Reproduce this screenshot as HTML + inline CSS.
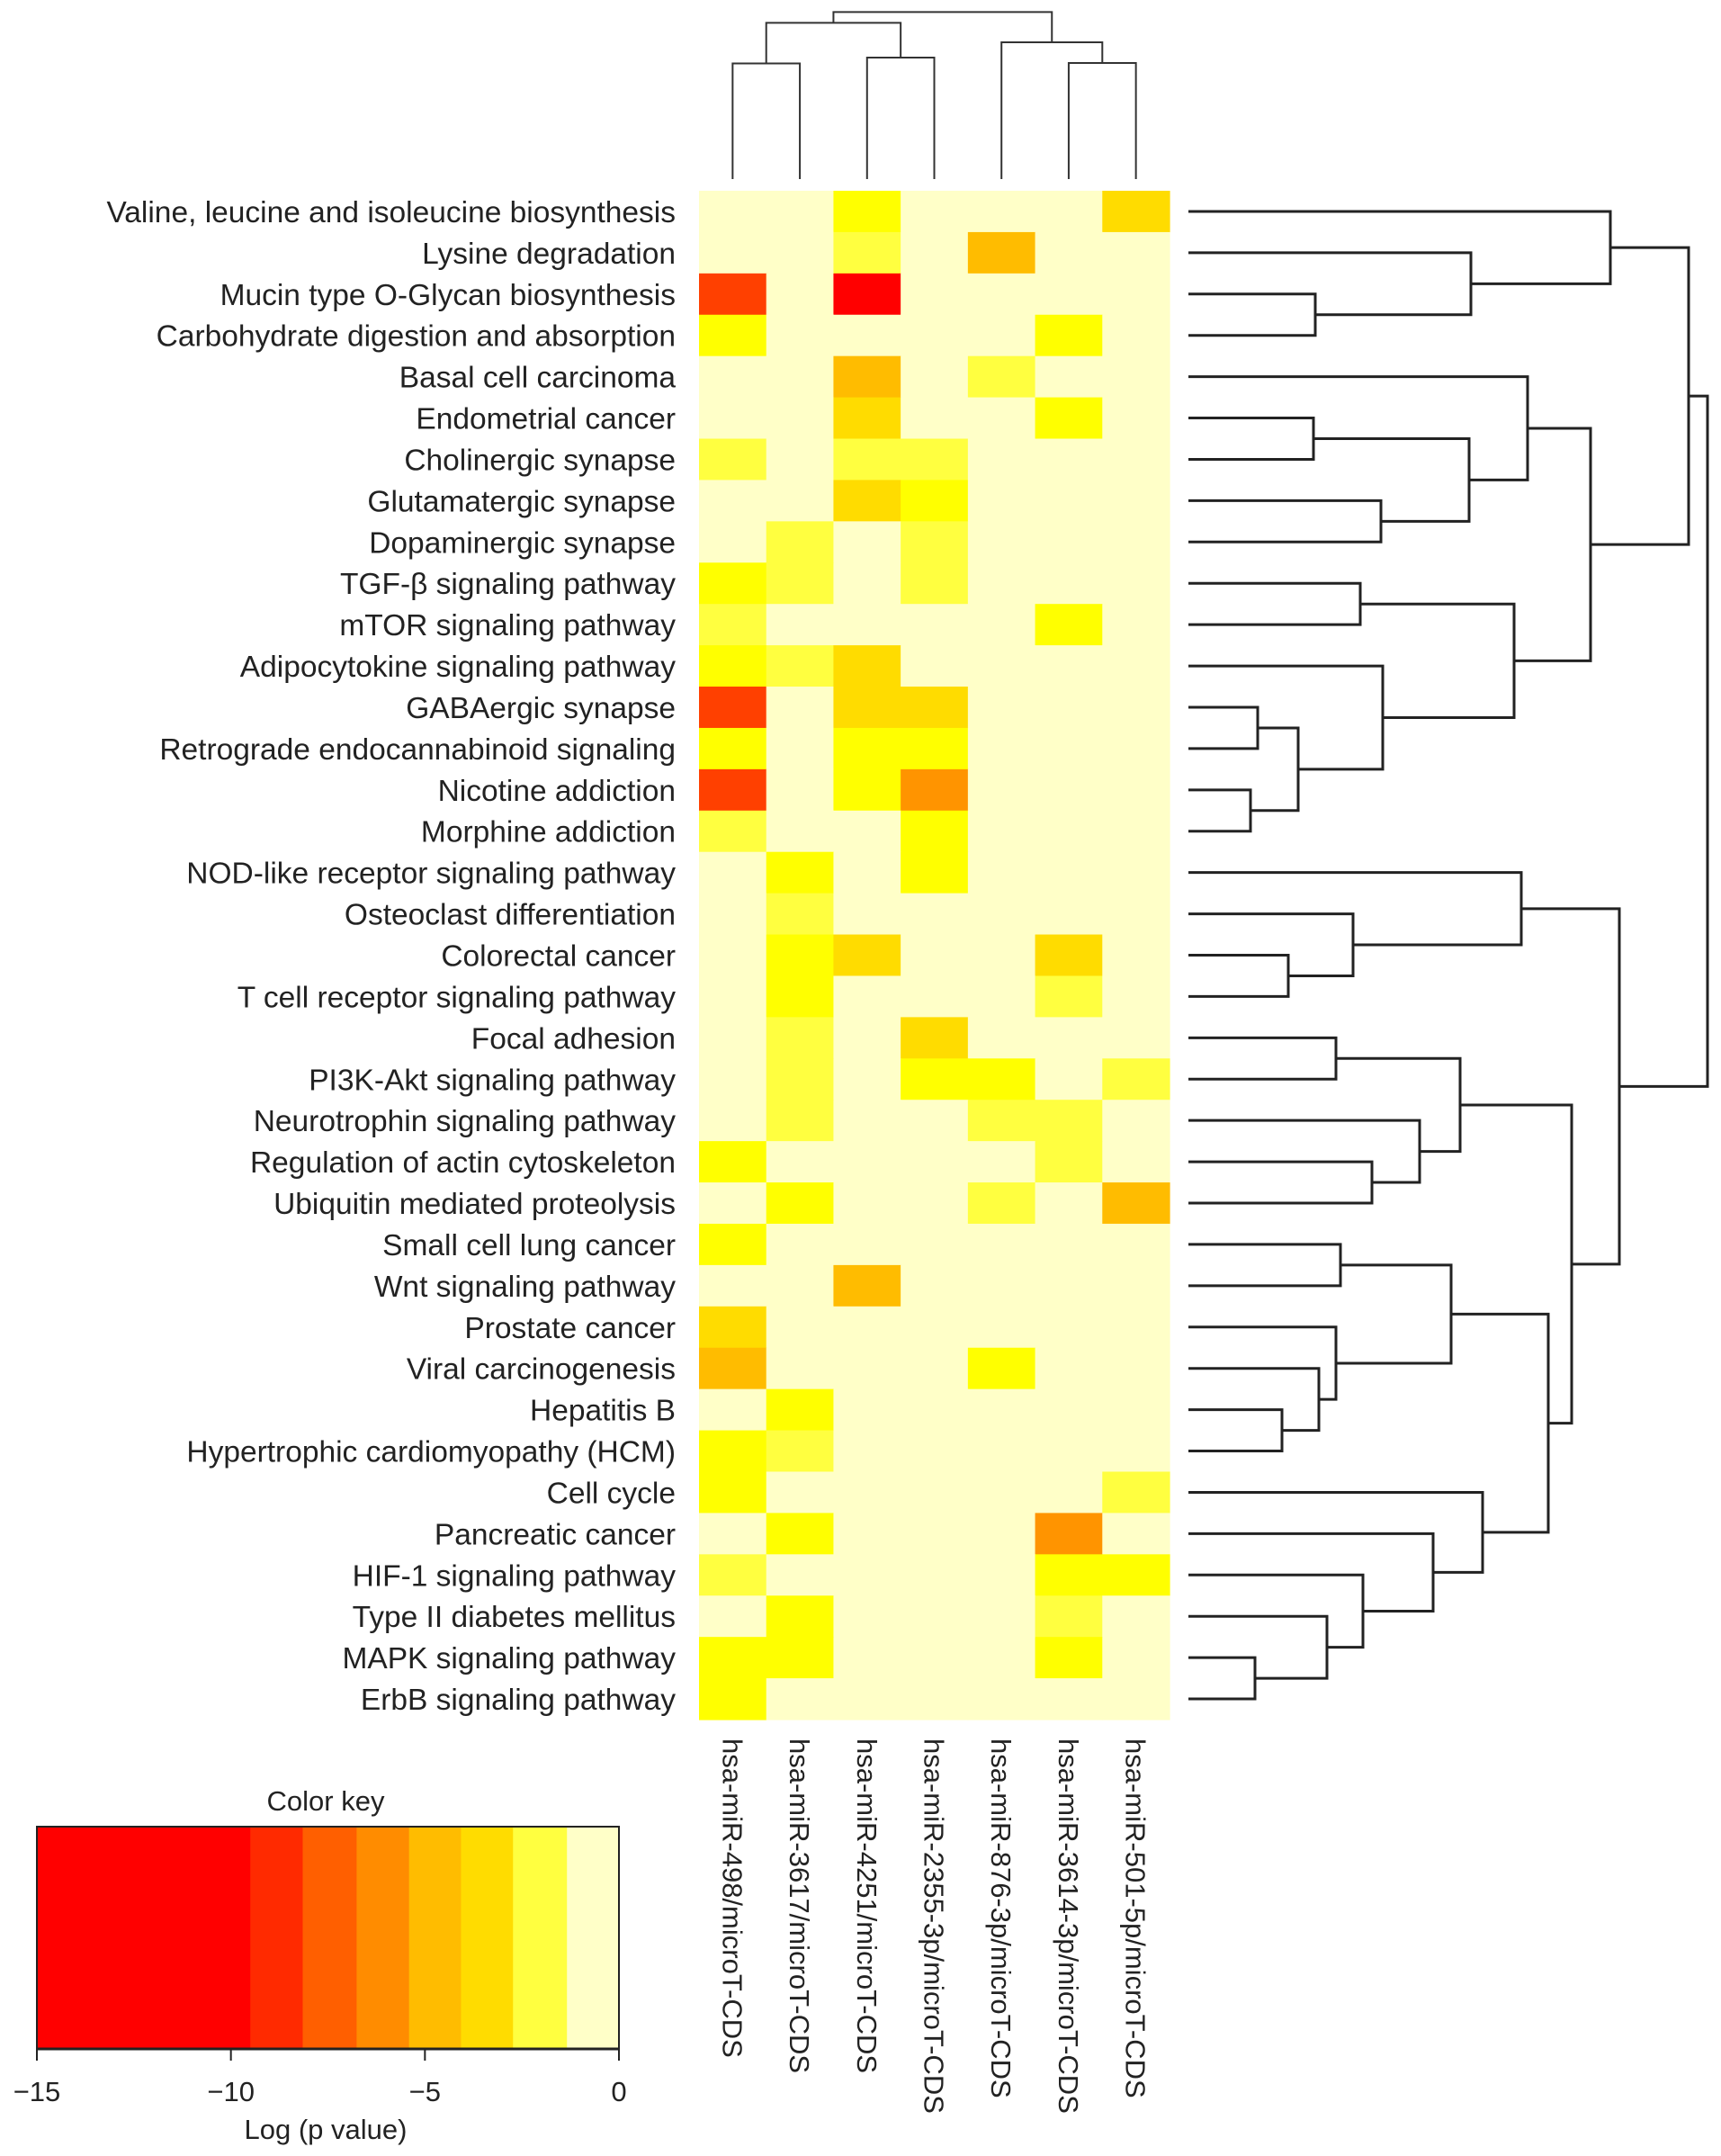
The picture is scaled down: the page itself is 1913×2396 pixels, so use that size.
<!DOCTYPE html>
<html><head><meta charset="utf-8"><style>
html,body{margin:0;padding:0;background:#fff;}
svg{display:block;font-family:"Liberation Sans",Arial,sans-serif;}
</style></head><body>
<svg id="chart" width="1913" height="2396" viewBox="0 0 1913 2396" xmlns="http://www.w3.org/2000/svg">
<g id="cells"></g>
<g id="rowlabels"></g>
<g id="collabels"></g>
<g id="rdend"></g>
<g id="cdend"></g>
<g id="key"></g>
</svg>
<script>
const rowNames = ["Valine, leucine and isoleucine biosynthesis","Lysine degradation","Mucin type O-Glycan biosynthesis","Carbohydrate digestion and absorption","Basal cell carcinoma","Endometrial cancer","Cholinergic synapse","Glutamatergic synapse","Dopaminergic synapse","TGF-\u03B2 signaling pathway","mTOR signaling pathway","Adipocytokine signaling pathway","GABAergic synapse","Retrograde endocannabinoid signaling","Nicotine addiction","Morphine addiction","NOD-like receptor signaling pathway","Osteoclast differentiation","Colorectal cancer","T cell receptor signaling pathway","Focal adhesion","PI3K-Akt signaling pathway","Neurotrophin signaling pathway","Regulation of actin cytoskeleton","Ubiquitin mediated proteolysis","Small cell lung cancer","Wnt signaling pathway","Prostate cancer","Viral carcinogenesis","Hepatitis B","Hypertrophic cardiomyopathy (HCM)","Cell cycle","Pancreatic cancer","HIF-1 signaling pathway","Type II diabetes mellitus","MAPK signaling pathway","ErbB signaling pathway"];
const colNames = ["hsa-miR-498/microT-CDS","hsa-miR-3617/microT-CDS","hsa-miR-4251/microT-CDS","hsa-miR-2355-3p/microT-CDS","hsa-miR-876-3p/microT-CDS","hsa-miR-3614-3p/microT-CDS","hsa-miR-501-5p/microT-CDS"];
const C=-0.5, L=-1.8, Y=-2.5, G=-3.5, A=-4.8, O=-6.2, R=-8.6, X=-12;
const values = [
[C,C,Y,C,C,C,G],[C,C,L,C,A,C,C],[R,C,X,C,C,C,C],[Y,C,C,C,C,Y,C],
[C,C,A,C,L,C,C],[C,C,G,C,C,Y,C],[L,C,L,L,C,C,C],[C,C,G,Y,C,C,C],
[C,L,C,L,C,C,C],[Y,L,C,L,C,C,C],[L,C,C,C,C,Y,C],[Y,L,G,C,C,C,C],
[R,C,G,G,C,C,C],[Y,C,Y,Y,C,C,C],[R,C,Y,O,C,C,C],[L,C,C,Y,C,C,C],
[C,Y,C,Y,C,C,C],[C,L,C,C,C,C,C],[C,Y,G,C,C,G,C],[C,Y,C,C,C,L,C],
[C,L,C,G,C,C,C],[C,L,C,Y,Y,C,L],[C,L,C,C,L,L,C],[Y,C,C,C,C,L,C],
[C,Y,C,C,L,C,A],[Y,C,C,C,C,C,C],[C,C,A,C,C,C,C],[G,C,C,C,C,C,C],
[A,C,C,C,Y,C,C],[C,Y,C,C,C,C,C],[Y,L,C,C,C,C,C],[Y,C,C,C,C,C,L],
[C,Y,C,C,C,O,C],[L,C,C,C,C,Y,Y],[C,Y,C,C,C,L,C],[Y,Y,C,C,C,Y,C],
[Y,C,C,C,C,C,C]];
const rowTree = [[[0,[1,[2,3,141],314],469],[[4,[[5,6,139],[7,8,214],312],377],[[9,10,191],[11,[[12,13,77],[14,15,69],122],216],362],447],556],
 [[16,[17,[18,19,111],183],370],[[[20,21,164],[22,[23,24,204],257],302],[[[25,26,169],[27,[28,[29,30,104],145],164],292],[31,[32,[33,[34,[35,36,74],154],194],272],327],400],426],479],577];
const colTree = [[[0,1,128.5],[2,3,135],173.6],[4,[5,6,129],152],185.6];
const keyBreaks = [-15,-9.5,-8.15,-6.76,-5.41,-4.07,-2.73,-1.34,0];
const keyColors = ["#FF0000","#FF2A00","#FF5F00","#FF8C00","#FFBC00","#FFDC00","#FFFF40","#FFFFC8"];
const keyTicks = [-15,-10,-5,0];

const NS="http://www.w3.org/2000/svg";
function mk(tag,attrs,parent){const e=document.createElementNS(NS,tag);for(const k in attrs)e.setAttribute(k,attrs[k]);parent.appendChild(e);return e;}
const HX0=777, HX1=1300, HY0=212, HY1=1911;
const cw=(HX1-HX0)/colNames.length, rh=(HY1-HY0)/rowNames.length;
const xCol=i=>HX0+cw*(i+0.5), yRow=i=>HY0+rh*(i+0.5);
function cellColor(v){
 if(v>-1.34)return "#FFFFC8"; if(v>-2.1)return "#FFFF40"; if(v>-3.0)return "#FFFF00";
 if(v>-4.07)return "#FFDC00"; if(v>-5.41)return "#FFBC00"; if(v>-7.5)return "#FF9400";
 if(v>-9.5)return "#FF4000"; return "#FF0000";}
const cells=document.getElementById('cells');
values.forEach((row,r)=>row.forEach((v,c)=>{
 const e=mk('rect',{x:HX0+cw*c,y:HY0+rh*r,width:cw+0.6,height:rh+0.6,fill:cellColor(v)},cells);
 
 
}));
const rl=document.getElementById('rowlabels');
rowNames.forEach((n,i)=>{const t=mk('text',{x:751,y:yRow(i)+12,'text-anchor':'end','font-size':33.5,fill:'#222'},rl);t.textContent=n;
 
 });
const cl=document.getElementById('collabels');
colNames.forEach((n,i)=>{const x=xCol(i)-11,y=1932;const t=mk('text',{x:x,y:y,transform:`rotate(90 ${x} ${y})`,'font-size':31,fill:'#222'},cl);t.textContent=n;
 
 });
const rd=document.getElementById('rdend');const RX0=1321;
function drawR(node){ if(typeof node==='number')return {pos:yRow(node),h:0};
 const a=drawR(node[0]),b=drawR(node[1]),x=RX0+node[2];
 const p=mk('path',{d:`M${RX0+a.h},${a.pos}H${x}V${b.pos}H${RX0+b.h}`,fill:'none',stroke:'#222','stroke-width':3},rd);
 
 
 return {pos:(a.pos+b.pos)/2,h:node[2]};}
drawR(rowTree);
const cd=document.getElementById('cdend');const CY0=199;
function drawC(node){ if(typeof node==='number')return {pos:xCol(node),h:0};
 const a=drawC(node[0]),b=drawC(node[1]),y=CY0-node[2];
 const p=mk('path',{d:`M${a.pos},${CY0-a.h}V${y}H${b.pos}V${CY0-b.h}`,fill:'none',stroke:'#333','stroke-width':2},cd);
 
 
 return {pos:(a.pos+b.pos)/2,h:node[2]};}
drawC(colTree);
const key=document.getElementById('key');const KX0=41,KX1=688,KY0=2030,KY1=2277;
const kx=v=>KX0+(v+15)/15*(KX1-KX0);
keyColors.forEach((c,i)=>{const e=mk('rect',{x:kx(keyBreaks[i]),y:KY0,width:kx(keyBreaks[i+1])-kx(keyBreaks[i])+0.5,height:KY1-KY0,fill:c},key);
 
 });
mk('rect',{x:KX0,y:KY0,width:KX1-KX0,height:KY1-KY0,fill:'none',stroke:'#222','stroke-width':2},key);
mk('line',{x1:KX0,x2:KX1,y1:KY1,y2:KY1,stroke:'#222','stroke-width':3},key);
keyTicks.forEach(t=>{mk('line',{x1:kx(t),x2:kx(t),y1:KY1,y2:2290,stroke:'#222','stroke-width':2},key);
 const tx=mk('text',{x:kx(t),y:2335,'text-anchor':'middle','font-size':31,fill:'#222'},key);tx.textContent=(t<0?'\u2212'+(-t):''+t);
 
 });
const kt=mk('text',{x:362,y:2012,'text-anchor':'middle','font-size':31,fill:'#222'},key);kt.textContent='Color key';


const ka=mk('text',{x:362,y:2377,'text-anchor':'middle','font-size':31,fill:'#222'},key);ka.textContent='Log (p value)';


</script>
</body></html>
